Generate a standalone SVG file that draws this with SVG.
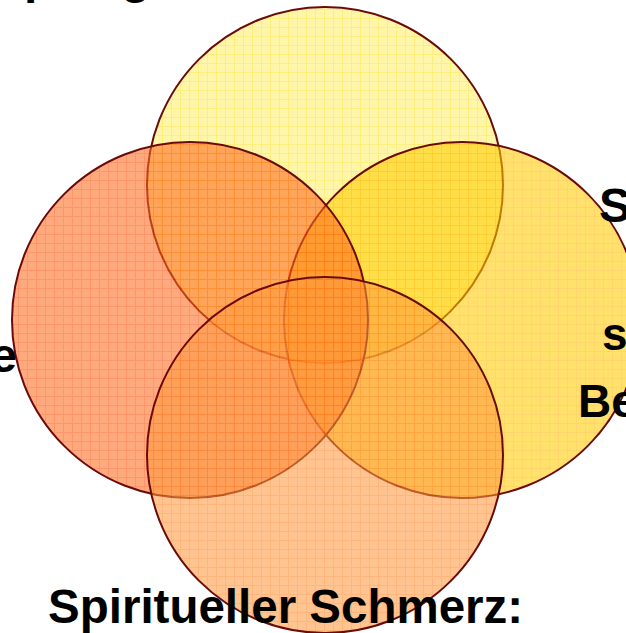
<svg xmlns="http://www.w3.org/2000/svg" width="626" height="633" viewBox="0 0 626 633">
<defs>
<style>
.c{stroke:#6a0a0a;stroke-width:2;fill-opacity:0.58}
.t{font-family:"Liberation Sans",Arial,sans-serif;font-weight:bold;fill:#000}
</style>
<pattern id="pTop" patternUnits="userSpaceOnUse" width="9" height="9">
<rect width="9" height="9" fill="#FFF06A"/>
<path d="M0 0.5H9M0.5 0V9" stroke="#FFE020" stroke-width="1"/>
</pattern>
<pattern id="pLeft" patternUnits="userSpaceOnUse" width="9" height="9">
<rect width="9" height="9" fill="#FF6A20"/>
<path d="M0 0.5H9M0.5 0V9" stroke="#FF4A00" stroke-width="1"/>
</pattern>
<pattern id="pRight" patternUnits="userSpaceOnUse" width="9" height="9">
<rect width="9" height="9" fill="#FFCC00"/>
<path d="M0 0.5H9M0.5 0V9" stroke="#FFB800" stroke-width="1"/>
</pattern>
<pattern id="pBot" patternUnits="userSpaceOnUse" width="9" height="9">
<rect width="9" height="9" fill="#FF9A40"/>
<path d="M0 0.5H9M0.5 0V9" stroke="#FF8020" stroke-width="1"/>
</pattern>
</defs>
<rect width="626" height="633" fill="#fff"/>
<g id="circle-top"><circle class="c" cx="325" cy="185" r="178" fill="url(#pTop)"/></g>
<g id="circle-right"><circle class="c" cx="462" cy="320" r="178" fill="url(#pRight)"/></g>
<g id="circle-left"><circle class="c" cx="190" cy="320" r="178" fill="url(#pLeft)"/></g>
<g id="circle-bottom"><circle class="c" cx="325" cy="455" r="178" fill="url(#pBot)"/></g>
<g id="labels">
<text class="t" font-size="48" y="-7"><tspan x="24">p</tspan><tspan x="121">g</tspan></text>
<text class="t" font-size="48" x="17" y="372" text-anchor="end">e</text>
<text class="t" font-size="48" x="599" y="222">S</text>
<text class="t" font-size="46" x="602" y="350">s</text>
<text class="t" font-size="46" x="578" y="417">Be</text>
<text class="t" font-size="47.5" x="48" y="623">Spiritueller Schmerz:</text>
</g>
</svg>
